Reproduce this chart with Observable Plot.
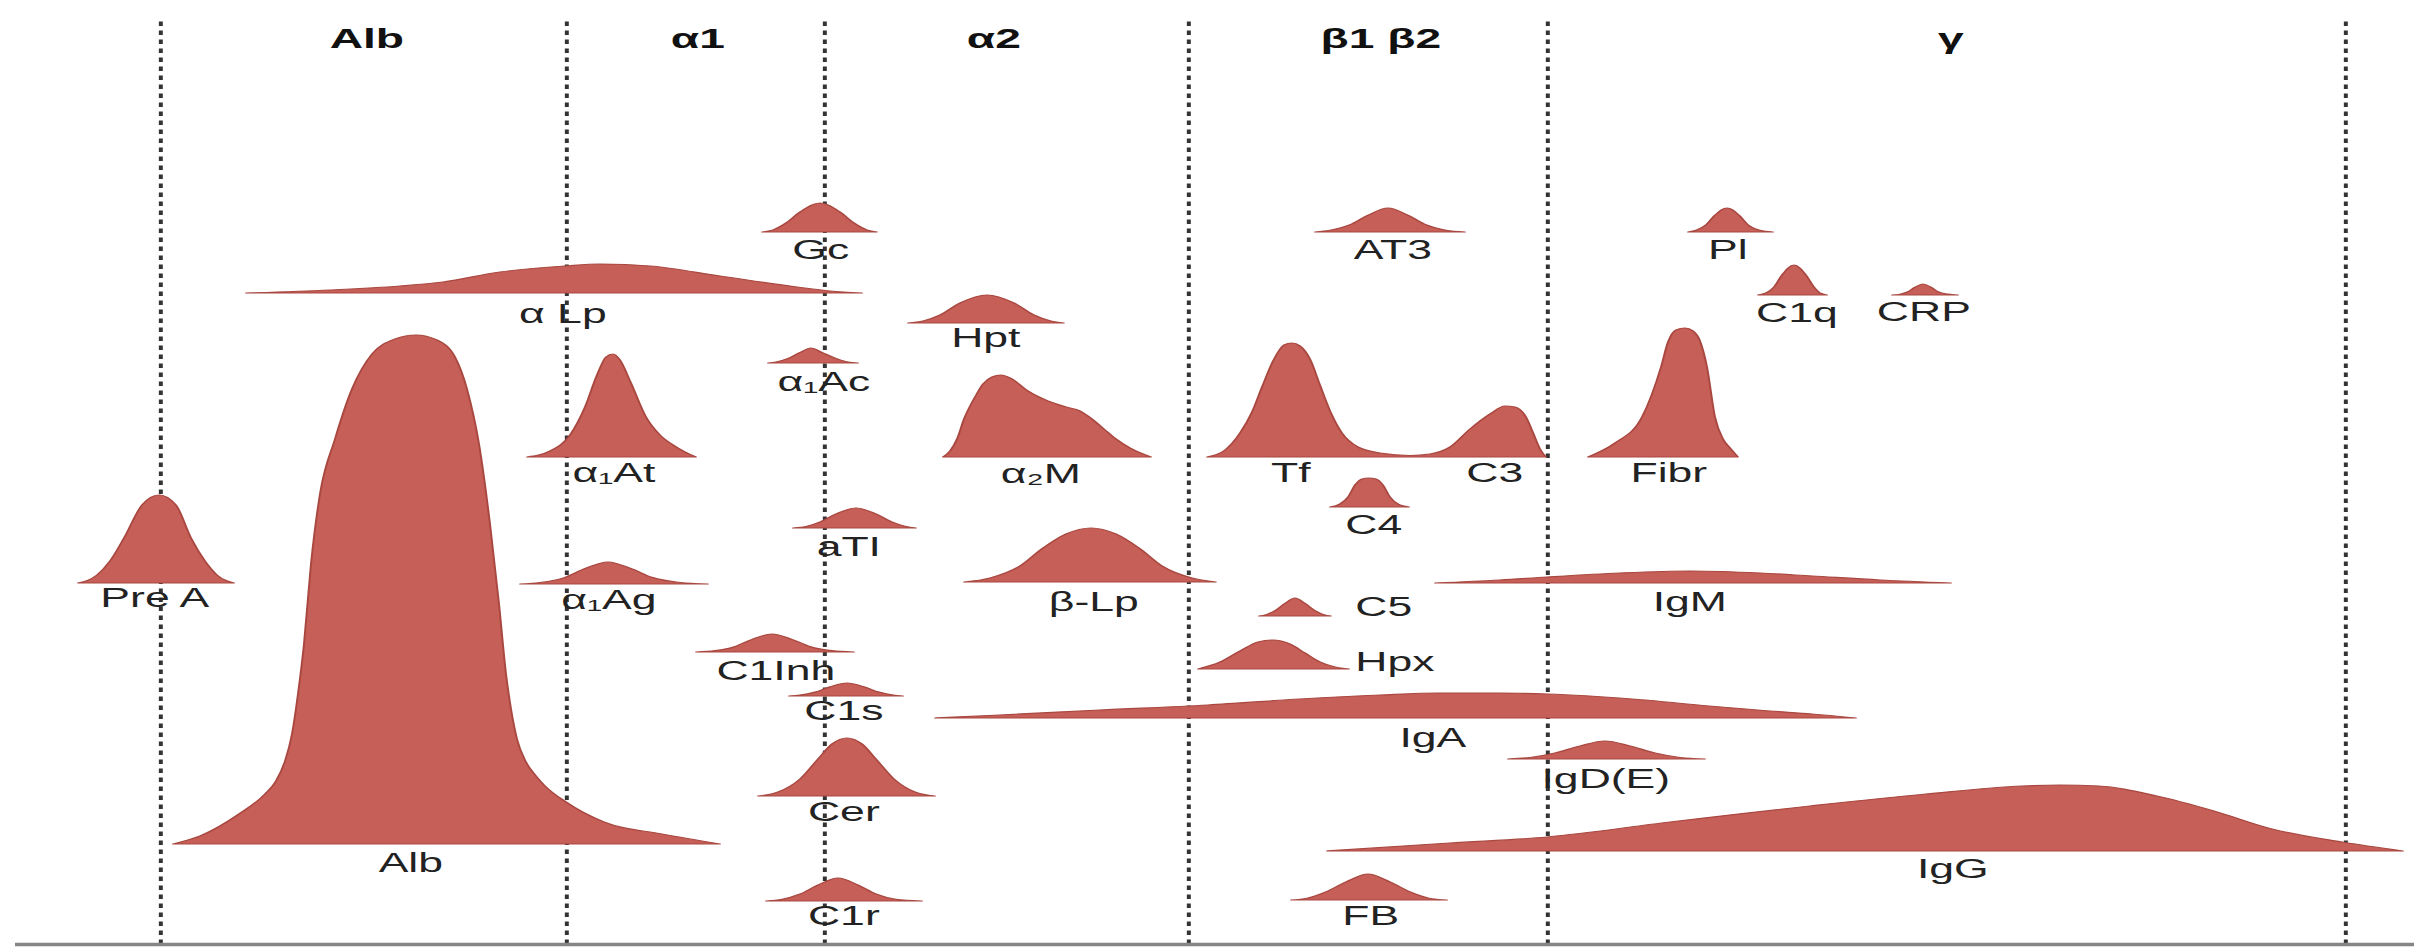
<!DOCTYPE html>
<html><head><meta charset="utf-8">
<script src="https://cdn.jsdelivr.net/npm/d3@7"></script>
<script src="https://cdn.jsdelivr.net/npm/@observablehq/plot@0.6"></script>
<style>html,body{margin:0;padding:0;background:#fff;} #chart svg{display:block;}</style>
</head><body><div id="chart"></div>
<script>
// Units: x = relative mobility (0..241.4), y = vertical position (0..94.9); h = peak profile height
const preA = [[7.8,0],[9.7,0.8],[11.0,2.2],[12.4,4.5],[14.2,7.8],[15.9,8.8],[17.6,7.8],[19.1,4.5],[20.5,2.2],[21.7,0.8],[23.4,0]];
const alb = [[17.3,0],[20.0,0.8],[23.9,3.0],[26.5,5.0],[27.6,6.3],[28.5,8.3],[29.2,11.0],[29.8,15.0],[30.4,20.0],[31.1,28.0],[32.0,35.0],[33.5,40.5],[35.2,45.5],[37.2,49.0],[39.5,50.5],[41.6,50.9],[43.7,50.4],[45.5,48.7],[46.7,45.5],[47.9,40.0],[49.0,32.0],[49.9,24.0],[50.6,17.0],[51.1,13.5],[51.7,10.5],[52.6,8.2],[53.6,6.8],[54.5,5.8],[56.6,4.2],[60.4,2.2],[66.2,1.0],[72.0,0]];
const aLp = [[24.6,0],[33.0,0.3],[40.0,0.7],[44.3,1.1],[50.0,2.1],[56.5,2.7],[60.0,2.9],[65.0,2.7],[72.0,1.7],[79.7,0.6],[83.0,0.2],[86.2,0]];
const gc = [[76.2,0],[77.3,0.2],[78.6,0.9],[80.0,2.0],[82.0,2.9],[84.0,2.0],[85.4,0.9],[86.7,0.2],[87.7,0]];
const hpt = [[90.8,0],[92.3,0.2],[94.0,0.8],[96.0,2.0],[98.7,2.8],[101.4,2.0],[103.4,0.8],[105.1,0.2],[106.4,0]];
const a1Ac = [[76.8,0],[77.6,0.1],[78.8,0.45],[80.0,1.05],[81.1,1.5],[82.2,1.05],[83.6,0.45],[84.8,0.1],[85.8,0]];
const a1At = [[52.7,0],[55.0,0.6],[57.0,2.2],[58.5,5.0],[59.7,8.2],[60.6,10.0],[61.3,10.3],[62.0,9.7],[63.1,7.4],[64.6,4.0],[66.0,2.2],[67.3,1.2],[68.5,0.5],[69.6,0]];
const a2M = [[94.3,0],[95.0,0.6],[95.7,1.8],[96.4,3.8],[97.5,6.0],[98.3,7.3],[99.2,8.0],[100.1,8.2],[101.2,7.8],[102.8,6.6],[104.8,5.6],[106.6,5.0],[108.0,4.6],[109.2,3.8],[110.4,2.8],[111.6,1.8],[113.0,0.9],[115.1,0]];
const aTI = [[79.3,0],[80.6,0.14],[82.0,0.6],[83.6,1.4],[85.6,2.0],[87.6,1.4],[89.2,0.6],[90.6,0.14],[91.6,0]];
const a1Ag = [[52.0,0],[54.0,0.15],[56.5,0.66],[58.5,1.54],[60.8,2.2],[63.1,1.54],[65.2,0.66],[68.0,0.15],[70.8,0]];
const bLp = [[96.4,0],[99.0,0.4],[102.0,1.6],[104.3,3.4],[106.6,4.8],[109.1,5.4],[111.6,4.8],[113.9,3.4],[116.2,1.6],[119.2,0.4],[121.6,0]];
const c1Inh = [[69.6,0],[71.5,0.13],[73.5,0.54],[75.2,1.26],[77.2,1.8],[79.2,1.26],[81.0,0.54],[83.2,0.13],[85.4,0]];
const c1s = [[78.9,0],[80.0,0.09],[81.5,0.39],[83.0,0.91],[84.7,1.3],[86.4,0.91],[87.9,0.39],[89.3,0.09],[90.3,0]];
const cer = [[75.8,0],[77.8,0.4],[80.0,1.7],[81.8,3.7],[83.2,5.2],[84.7,5.8],[86.2,5.2],[87.6,3.7],[89.4,1.7],[91.5,0.4],[93.5,0]];
const c1r = [[76.6,0],[78.2,0.16],[80.0,0.69],[81.8,1.6],[83.8,2.3],[85.8,1.6],[87.6,0.69],[89.6,0.16],[92.2,0]];
const igA = [[93.5,0],[100.0,0.3],[110.0,0.8],[120.8,1.3],[130.0,1.9],[138.0,2.3],[143.9,2.5],[150.0,2.5],[154.7,2.4],[163.2,1.9],[170.9,1.2],[177.0,0.7],[181.2,0.4],[185.6,0]];
const c5 = [[125.9,0],[126.6,0.13],[127.5,0.54],[128.5,1.26],[129.5,1.8],[130.5,1.26],[131.5,0.54],[132.4,0.13],[133.1,0]];
const hpx = [[119.8,0],[122.0,0.7],[124.0,1.8],[125.8,2.7],[127.3,2.9],[129.0,2.5],[130.5,1.6],[132.0,0.7],[133.5,0.2],[134.9,0]];
const igM = [[143.5,0],[150.0,0.3],[154.7,0.6],[162.0,1.0],[169.0,1.2],[176.0,1.0],[181.2,0.7],[188.0,0.3],[195.1,0]];
const igD = [[150.8,0],[153.0,0.15],[155.5,0.6],[158.0,1.3],[160.5,1.8],[163.0,1.3],[165.5,0.6],[168.0,0.15],[170.5,0]];
const igG = [[132.7,0],[145.0,0.8],[154.7,1.4],[167.0,2.9],[181.0,4.5],[192.6,5.7],[202.2,6.5],[206.0,6.6],[209.9,6.5],[215.7,5.5],[221.4,4.0],[227.2,2.2],[234.2,0.9],[240.3,0]];
const fb = [[129.1,0],[130.7,0.18],[132.5,0.78],[134.6,1.8],[136.8,2.6],[139.0,1.8],[141.1,0.78],[142.9,0.18],[144.7,0]];
const c4 = [[133.0,0],[134.0,0.3],[134.8,1.0],[135.5,2.2],[136.2,2.8],[136.9,2.9],[137.6,2.8],[138.3,2.2],[139.0,1.0],[139.8,0.3],[140.9,0]];
const tfC3 = [[120.7,0],[122.5,0.7],[124.0,2.4],[125.2,4.5],[126.2,7.0],[127.3,9.6],[128.4,11.2],[129.2,11.4],[130.0,11.1],[131.0,9.8],[132.0,7.2],[133.1,4.4],[134.2,2.4],[135.8,1.0],[138.0,0.4],[141.0,0.15],[143.0,0.3],[145.0,1.0],[147.0,2.8],[149.0,4.3],[150.5,5.1],[151.5,5.0],[152.6,4.0],[153.4,2.2],[154.0,0.8],[154.6,0]];
const at3 = [[131.5,0],[133.0,0.17],[135.0,0.72],[136.8,1.68],[138.8,2.4],[140.8,1.68],[142.6,0.72],[144.6,0.17],[146.5,0]];
const pl = [[168.8,0],[169.6,0.17],[170.6,0.72],[171.5,1.68],[172.7,2.4],[173.9,1.68],[174.8,0.72],[176.0,0.17],[177.3,0]];
const c1q = [[175.8,0],[176.6,0.2],[177.4,0.8],[178.2,2.0],[179.4,3.0],[180.6,2.0],[181.4,0.8],[182.0,0.2],[182.7,0]];
const crp = [[189.2,0],[190.0,0.08],[190.8,0.33],[191.5,0.77],[192.3,1.1],[193.1,0.77],[193.8,0.33],[194.8,0.08],[195.8,0]];
const fibr = [[158.8,0],[161.5,1.4],[164.2,4.0],[166.1,9.0],[166.8,11.5],[167.6,12.7],[168.5,12.9],[169.3,12.6],[170.0,11.6],[170.7,9.0],[171.5,4.0],[172.3,1.8],[173.1,0.8],[173.8,0]];

const shapeNames = ["Pre A","Alb","α Lp","Gc","Hpt","α1Ac","α1At","α2M","aTI","α1Ag","β-Lp","C1Inh","C1s","Cer","C1r","IgA","C5","Hpx","IgM","IgD(E)","IgG","FB","C4","Tf-C3","AT3","Pl","C1q","CRP","Fibr"];
const shapeBases = [36.6,10.5,65.6,71.7,62.6,58.6,49.2,49.2,42.1,36.5,36.7,29.7,25.3,15.3,4.8,23.1,33.3,28.0,36.6,19.0,9.8,4.9,44.2,49.2,71.7,71.7,65.4,65.4,49.2];
const shapeProfiles = [preA,alb,aLp,gc,hpt,a1Ac,a1At,a2M,aTI,a1Ag,bLp,c1Inh,c1s,cer,c1r,igA,c5,hpx,igM,igD,igG,fb,c4,tfC3,at3,pl,c1q,crp,fibr];

const labelText = ["Gc","α Lp","Hpt","α₁Ac","α₁At","α₂M","Pre A","Alb","aTI","α₁Ag","β-Lp","C1Inh","C1s","Cer","C1r","AT3","Pl","C1q","CRP","Tf","C3","Fibr","C4","C5","IgM","Hpx","IgA","IgD(E)","IgG","FB"];
const labelX = [82.0,56.2,98.5,82.3,61.3,104.0,15.4,41.0,84.8,60.8,109.3,77.5,84.3,84.3,84.3,139.2,172.7,179.6,192.3,129.0,149.4,166.8,137.3,138.3,168.9,139.4,143.2,160.5,195.2,137.0];
const labelY = [69.9,63.5,61.1,56.7,47.6,47.5,35.1,8.6,40.2,34.9,34.7,27.8,23.8,13.7,3.3,69.9,69.9,63.6,63.7,47.6,47.6,47.6,42.4,34.2,34.7,28.7,21.1,17.0,8.0,3.3];

const headerText = ["Alb","α1","α2","β1 β2","γ"];
const headerX = [36.6,69.7,99.3,138.0,195.0];
const headerY = 91.0;

const dividerX = [16.0,56.6,82.4,118.8,154.7,234.5];

// build tables
const areaRows = [];
shapeNames.forEach((name, i) => {
  shapeProfiles[i].forEach(([x, h]) => areaRows.push({name, x, y1: shapeBases[i], y2: shapeBases[i] + h}));
});
const labels = labelText.map((t, i) => ({t, x: labelX[i], y: labelY[i]}));
const headers = headerText.map((t, i) => ({t, x: headerX[i], y: headerY}));

const STRETCH = 1.65;
const PW = Math.round(2414 / STRETCH);

const plot = Plot.plot({
  width: PW, height: 949,
  marginTop: 0, marginRight: 0, marginBottom: 0, marginLeft: 0,
  x: {domain: [0, 241.4], axis: null},
  y: {domain: [0, 94.9], axis: null},
  style: {fontFamily: "'Liberation Sans', Arial, sans-serif", background: "white", overflow: "visible"},
  marks: [
    Plot.ruleX(dividerX, {y1: 0.5, y2: 93.1, stroke: "#333", strokeWidth: 2.4, strokeDasharray: "4.5,4.5"}),
    Plot.ruleY([0.5], {x1: 1.5, x2: 241.4, stroke: "#858585", strokeWidth: 3.5}),
    Plot.areaY(areaRows, {x: "x", y1: "y1", y2: "y2", z: "name", fill: "#c65f57", stroke: "#a94841", strokeWidth: 1.2, curve: "monotone-x"}),
    Plot.text(labels, {x: "x", y: "y", text: "t", fontSize: 27, fill: "#222"}),
    Plot.text(headers, {x: "x", y: "y", text: "t", fontSize: 28, fontWeight: "bold", fill: "#111"})
  ]
});
plot.setAttribute("preserveAspectRatio", "none");
plot.setAttribute("width", 2414);
plot.setAttribute("height", 949);
plot.style.width = "2414px";
plot.style.height = "949px";
plot.style.maxWidth = "none";
document.getElementById("chart").append(plot);
</script>
</body></html>
